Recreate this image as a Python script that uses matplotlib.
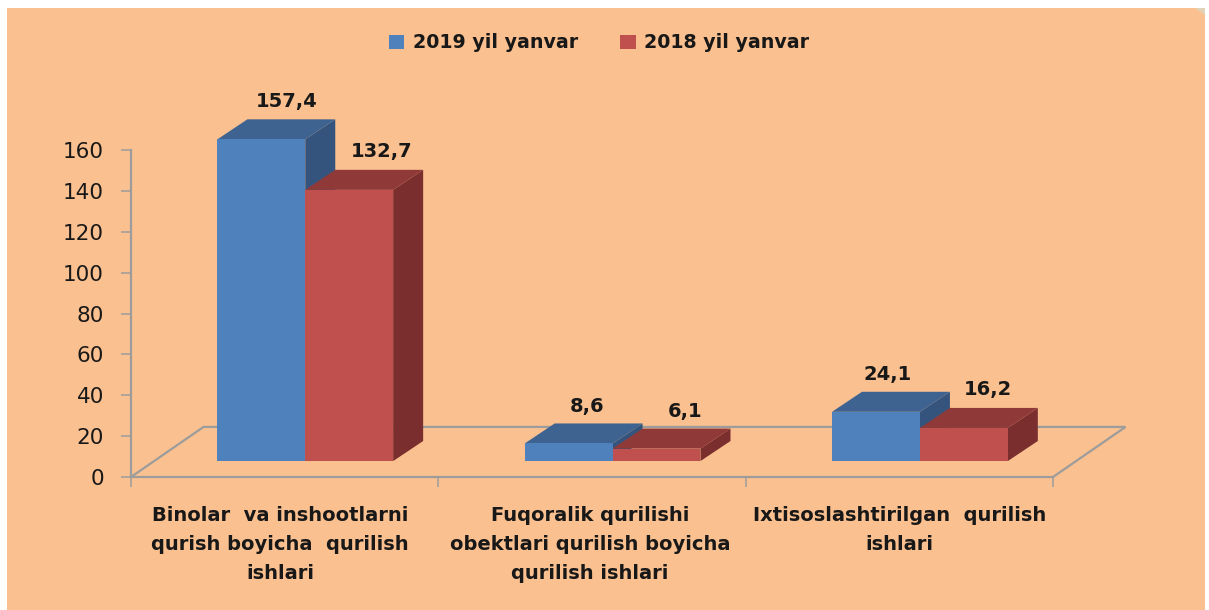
import matplotlib
matplotlib.use("Agg")
import matplotlib.pyplot as plt
from matplotlib.patches import Patch, Rectangle, Polygon

categories = ["Binolar  va inshootlarni\nqurish boyicha  qurilish\nishlari",
              "Fuqoralik qurilishi\nobektlari qurilish boyicha\nqurilish ishlari",
              "Ixtisoslashtirilgan  qurilish\nishlari"]
series_names = ["2019 yil yanvar", "2018 yil yanvar"]
values_2019 = [157.4, 8.6, 24.1]
values_2018 = [132.7, 6.1, 16.2]
labels_2019 = ["157,4", "8,6", "24,1"]
labels_2018 = ["132,7", "6,1", "16,2"]
y_ticks = [0, 20, 40, 60, 80, 100, 120, 140, 160]

W, H = 1209, 610
PANEL = "#fbc08f"
GRID = "#9c9c9c"
INK = "#181818"
FONT = "DejaVu Sans"
front = ["#4f81bd", "#c0504d"]
top = ["#3e6391", "#8f3a38"]
side = ["#34547d", "#7a2f2e"]

fig = plt.figure(figsize=(W / 100, H / 100), dpi=100, facecolor="white")
fig.add_artist(Rectangle((7 / W, 0), 1198 / W, 1 - 8 / H, transform=fig.transFigure,
                         fc=PANEL, ec="none", zorder=-2))
fig.add_artist(Polygon([(1195 / W, 1 - 8 / H), (1205 / W, 1 - 8 / H), (1205 / W, 1 - 15 / H)],
                       transform=fig.transFigure, fc="#e2d2b8", ec="none", zorder=-1))

ax = fig.add_axes([131 / W, 1 - 477 / H, 922 / W, 327 / H])
ax.patch.set_alpha(0)
ax.set_xlim(0, 3)
ax.set_ylim(0, 160)

# projection of the 3-D look, in axis units
floor_dx, floor_dy = 0.236, 24.5
bar_dx, bar_dy = 0.0976, 9.8
base = 7.8
width = 0.286
center = 0.567

ax.plot([0, floor_dx, 3 + floor_dx, 3], [0, floor_dy, floor_dy, 0],
        color=GRID, lw=1.6, clip_on=False, zorder=1, solid_joinstyle="miter")

label_offsets = [[(25, 38), (32, 38)], [(18, 37), (29, 37)], [(12, 37), (24, 38)]]

for s, (vals, labs) in enumerate([(values_2019, labels_2019), (values_2018, labels_2018)]):
    for i, (v, lab) in enumerate(zip(vals, labs)):
        x0 = i + center + (s - 1) * width
        x1 = x0 + width
        y1 = base + v
        z = 3 + s
        ax.add_patch(Polygon([(x1, base), (x1 + bar_dx, base + bar_dy),
                              (x1 + bar_dx, y1 + bar_dy), (x1, y1)],
                             fc=side[s], ec="none", clip_on=False, zorder=z))
        ax.add_patch(Polygon([(x0, y1), (x0 + bar_dx, y1 + bar_dy),
                              (x1 + bar_dx, y1 + bar_dy), (x1, y1)],
                             fc=top[s], ec="none", clip_on=False, zorder=z))
        ax.bar(x0, v, width=width, bottom=base, align="edge", color=front[s],
               clip_on=False, zorder=z)
        ax.annotate(lab, (x0 + width / 2, y1), xytext=label_offsets[i][s],
                    textcoords="offset pixels", ha="center", va="center",
                    fontsize=14, fontweight="bold", family=FONT, color=INK,
                    annotation_clip=False, zorder=6)

for name in ("top", "right"):
    ax.spines[name].set_visible(False)
for name in ("left", "bottom"):
    ax.spines[name].set_color(GRID)
    ax.spines[name].set_linewidth(1.6)

ax.set_yticks(y_ticks)
ax.set_yticklabels([str(t) for t in y_ticks], fontsize=15.5, family="DejaVu Sans", color=INK)
ax.tick_params(axis="y", length=7.5, width=1.1, color=GRID, pad=12)
ax.set_xticks([0, 1, 2, 3])
ax.set_xticklabels([])
ax.tick_params(axis="x", length=7.5, width=1.1, color=GRID)
ax.set_xticks([0.485, 1.493, 2.5], minor=True)
ax.set_xticklabels(categories, minor=True, fontsize=14, fontweight="bold", family=FONT,
                   color=INK, linespacing=1.65, va="top")
ax.tick_params(axis="x", which="minor", length=0, pad=21)

handles = [Patch(fc=front[0], ec="none"), Patch(fc=front[1], ec="none")]
fig.legend(handles, series_names, loc="center", bbox_to_anchor=(599 / W, 1 - 43 / H), ncol=2,
           frameon=False, prop={"family": FONT, "weight": "bold", "size": 13.7},
           labelcolor=INK, handlelength=0.8, handleheight=0.8, handletextpad=0.45,
           columnspacing=2.25)

fig.savefig("out.png", dpi=100, facecolor="white")
